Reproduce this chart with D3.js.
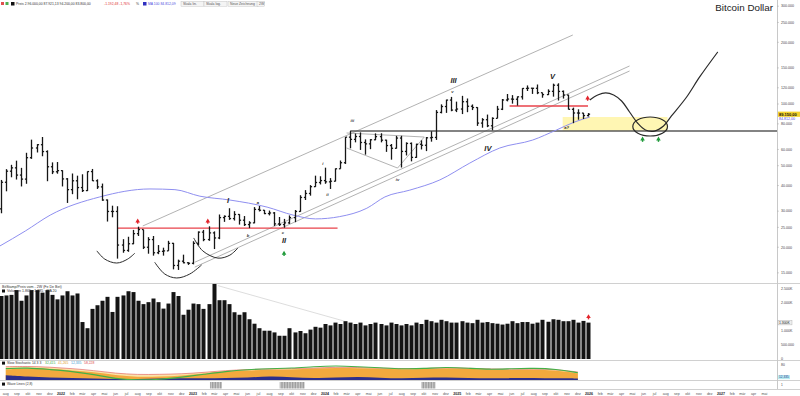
<!DOCTYPE html>
<html>
<head>
<meta charset="utf-8">
<script src="https://cdn.jsdelivr.net/npm/d3@7"></script>
<style>
body { margin: 0; background: #fff; }
svg { display: block; font-family: "Liberation Sans", Arial, sans-serif; }
</style>
</head>
<body>
<svg id="chart" width="800" height="396"></svg>
<script>
// two-week bars, prices in thousand USD
var firstBar = "2021-07-19";
var opens  = [30.8,41.5,47.0,48.8,45.0,43.0,54.7,61.0,63.3,58.6,49.4,46.7,47.3,43.1,38.2,42.2,39.1,37.8,46.8,42.2,39.4,34.0,29.9,29.9,20.5,19.3,20.8,23.3,24.4,20.0,21.8,18.8,19.1,19.2,20.9,16.3,17.1,16.8,16.7,20.9,23.7,21.8,23.5,22.2,27.9,28.3,27.6,28.9,27.1,25.8,26.3,30.6,30.3,29.2,29.4,26.0,25.8,26.3,27.9,29.9,35.0,36.6,39.5,41.4,42.3,41.7,42.0,48.3,51.7,68.9,67.2,69.4,64.9,63.9,66.9,69.3,66.6,62.7,60.8,68.2,58.7,64.2,54.9,63.6,62.9,68.4,68.7,91.0,97.2,104.5,93.4,94.5,102.6,97.5,96.1,80.7,83.8,78.3,85.1,94.3,104.6,105.7,105.5,108.4,119.1,119.4,119.3,113.5,111.1,115.3,123.5,115.2,110.6,94.2,90.4,90.3,87.8];
var highs  = [42.6,48.1,50.5,52.9,48.8,57.8,67.0,63.7,69.0,59.4,51.9,52.1,47.5,43.5,45.8,44.7,45.4,46.9,48.2,42.9,40.9,34.2,31.9,31.7,21.9,22.5,24.3,25.2,24.4,22.4,22.7,20.5,19.9,21.5,21.0,17.4,18.4,16.9,21.4,23.9,24.3,25.3,23.9,28.9,28.6,31.0,30.0,29.0,28.4,26.8,31.4,31.8,30.4,30.2,29.7,28.1,27.5,28.6,30.4,35.9,38.0,40.2,44.7,44.4,48.9,43.5,48.5,53.0,69.0,73.8,71.8,72.7,67.2,67.4,71.9,72.0,66.9,63.8,69.9,70.0,65.0,64.9,64.0,66.5,69.0,73.6,93.4,99.6,105.0,108.3,102.7,109.6,106.4,99.5,96.5,85.3,88.8,86.1,97.9,105.8,111.9,110.5,108.9,119.5,123.2,119.8,124.5,113.6,117.9,125.7,126.2,116.4,111.0,96.0,94.2,90.5,90.3];
var lows   = [29.3,37.5,43.9,42.8,39.6,40.8,54.0,58.0,55.6,42.0,45.5,45.7,39.6,32.9,36.3,34.3,37.2,37.6,42.1,38.5,33.7,26.7,28.0,17.6,18.8,19.0,20.7,22.7,19.6,18.6,18.2,18.5,18.2,19.2,15.6,15.5,16.7,16.4,16.5,20.4,21.4,21.5,19.6,21.9,26.6,27.2,27.0,25.8,25.4,24.8,26.2,29.9,29.0,28.6,25.4,25.4,24.9,26.0,26.5,29.8,34.0,35.7,39.4,40.5,40.8,38.5,41.9,48.3,51.0,60.8,65.0,59.7,56.6,60.2,66.6,65.0,58.4,53.5,60.6,49.0,56.1,52.5,54.6,60.0,58.9,65.5,66.8,90.0,90.5,92.2,91.3,89.3,91.2,93.4,78.2,76.6,77.1,74.4,85.1,93.4,103.0,100.4,98.2,105.1,115.7,112.0,111.7,107.3,110.6,108.6,104.0,106.3,94.0,80.6,83.8,84.5,86.9];
var closes = [41.5,47.0,48.8,45.0,43.0,54.7,61.0,63.3,58.6,49.4,46.7,47.3,43.1,38.2,42.2,39.1,37.8,46.8,42.2,39.4,34.0,29.9,29.9,20.5,19.3,20.8,23.3,24.4,20.0,21.8,18.8,19.1,19.2,20.9,16.3,17.1,16.8,16.7,20.9,23.7,21.8,23.5,22.2,27.9,28.3,27.6,28.9,27.1,25.8,26.3,30.6,30.3,29.2,29.4,26.0,25.8,26.3,27.9,29.9,35.0,36.6,39.5,41.4,42.3,41.7,42.0,48.3,51.7,68.9,67.2,69.4,64.9,63.9,66.9,69.3,66.6,62.7,60.8,68.2,58.7,64.2,54.9,63.6,62.9,68.4,68.7,91.0,97.2,104.5,93.4,94.5,102.6,97.5,96.1,80.7,83.8,78.3,85.1,94.3,104.6,105.7,105.5,108.4,119.1,119.4,119.3,113.5,111.1,115.3,123.5,115.2,110.6,94.2,90.4,90.3,87.8,89.15];
// volume in millions
var volumes = [2.25,2.27,2.29,2.46,2.08,2.27,2.46,2.46,2.37,2.46,2.29,2.13,2.27,2.42,2.27,2.34,1.32,1.10,1.79,1.92,2.08,2.22,1.68,2.22,2.27,2.42,2.39,2.08,1.96,2.03,2.16,2.03,1.80,1.98,2.39,2.25,1.58,1.76,1.98,1.96,1.79,1.96,2.68,2.10,2.10,1.96,1.67,1.58,1.67,1.42,1.26,1.10,1.01,1.01,0.95,0.83,0.83,1.10,0.95,1.0,0.92,1.05,1.15,1.12,1.25,1.2,1.3,1.25,1.35,1.3,1.25,1.3,1.2,1.25,1.3,1.25,1.2,1.3,1.25,1.2,1.25,1.2,1.3,1.25,1.4,1.35,1.3,1.4,1.35,1.3,1.3,1.35,1.3,1.28,1.4,1.3,1.32,1.28,1.26,1.23,1.26,1.35,1.28,1.32,1.32,1.26,1.30,1.40,1.33,1.42,1.40,1.35,1.35,1.40,1.30,1.36,1.30];

var maDates  = ["2021-07-16","2021-09-24","2021-12-02","2022-04-18","2022-09-04","2022-11-12","2023-01-20","2023-04-13","2023-07-25","2023-10-05","2023-12-06","2024-02-10","2024-04-26","2024-06-15","2024-08-23","2024-11-14","2025-02-05","2025-04-29","2025-07-29","2025-10-03","2025-11-22","2026-01-03"];
var maValues = [20.3,24.0,28.7,35.2,38.5,38.2,35.5,34.0,31.4,28.7,27.5,28.2,31.0,35.2,38.0,42.6,51.5,61.0,66.7,74.7,81.7,86.4];

// oscillator, one value every two months from Aug 2021
var oscStart = "2021-08-01";
var oscK   = [55,62,60,50,42,25,15,18,22,35,45,50,55,55,60,65,62,60,55,58,62,60,55,52,55,50,35];
var oscD   = [60,65,55,45,30,5,0,2,15,30,45,55,60,62,70,75,70,65,58,60,68,62,55,60,62,58,38];
var oscLow = [25,18,12,10,8,5,5,8,10,8,10,12,20,15,10,12,18,12,8,12,15,10,8,10,12,8,8];
var oscSig = [70,72,68,60,50,35,28,30,32,40,50,55,58,60,62,68,66,62,60,60,65,62,58,56,58,55,42];

var signalBlocks = [["2023-02-17","2023-03-22"],["2023-08-29","2023-11-06"],["2024-09-24","2024-11-02"]];

var priceTicks  = [300000,250000,200000,150000,120000,100000,80000,60000,50000,40000,30000,25000,20000,15000];
var volumeTicks = [2.5,2.0,1.0,0.5,0];
var volumeTickLabels = ["2.500K","2.000K","1.000K","500.000","0"];
var monthNames = ["Jan","Feb","Mär","Apr","Mai","Jun","Jul","Aug","Sep","Okt","Nov","Dez"];

// drawings (date, price in k)
var channelLines = [
  [["2022-08-15",25.4],["2025-11-17",217.1]],
  [["2023-01-06",16.9],["2026-04-23",153.3]],
  [["2023-01-06",16.0],["2026-04-23",144.9]]
];
var triangle = [["2024-03-01",72.2],["2024-10-02",69.0],["2024-07-20",48.7],["2024-03-01",61.0]];
var supportLine = {price: 73.8, from: "2024-03-11", to: "2027-06-05"};
var redLines = [{price: 24.8, from: "2022-06-06", to: "2024-02-05"}, {price: 97.8, from: "2025-05-26", to: "2025-12-29"}];
var targetZone = {from: "2025-10-20", to: "2026-08-06", lo: 73.8, hi: 86.4};
var ellipseBox = {from: "2026-05-02", to: "2026-08-06", lo: 69.8, hi: 86.4};
var forecast = [["2026-01-03",104.6],["2026-01-25",110.6],["2026-02-16",113.2],["2026-03-10",110.6],["2026-04-01",103.4],["2026-04-23",91.4],["2026-05-15",80.8],["2026-06-06",74.7],["2026-07-01",73.8],["2026-07-26",78.1],["2026-08-17",87.4],["2026-09-28",108.2],["2026-11-03",135.5],["2026-12-23",179.4]];
var arcs = [
  [["2022-04-10",19.2],["2022-05-02",17.5],["2022-06-04",16.75],["2022-07-04",17.5],["2022-07-24",18.7]],
  [["2022-09-17",16.9],["2022-10-15",14.8],["2022-11-17",14.16],["2022-12-23",14.8],["2023-01-25",16.4]],
  [["2023-01-03",22.2],["2023-01-28",19.2],["2023-03-11",17.7],["2023-04-13",18.3],["2023-05-05",19.8]]
];
var waveLabels = [["I","2023-04-08",34.0],["II","2023-09-10",21.5],["III","2024-12-22",131.0],["IV","2025-03-27",61.0],["V","2025-09-22",137.0]];
var subLabels = [["a","2023-06-30",33.2],["b","2023-06-02",22.7],["c","2023-09-07",23.7],["i","2023-12-26",51.5],["ii","2024-01-08",36.0],["iii","2024-03-17",83.5],["iv","2024-07-20",42.6],["v","2024-12-19",114.4],["a?","2025-10-31",76.4]];
var redArrows = [["2022-08-01",26.6],["2023-02-11",26.6],["2025-12-28",105.8]];
var greenArrows = [["2023-09-10",18.5],["2026-05-29",66.7],["2026-07-12",66.7]];

var parse = d3.timeParse("%Y-%m-%d");
var de = d3.formatLocale({decimal: ",", thousands: ".", grouping: [3], currency: ["", " €"]});
var fmtInt = de.format(",.0f"), fmt2 = de.format(",.2f");

var axisX = 777;
var svg = d3.select("#chart");
var x = d3.scaleTime().domain([parse("2021-07-16"), parse("2027-06-05")]).range([0, axisX]);
var y = d3.scaleLog().domain([15000, 300000]).range([272.85, 6.22]);
var yv = d3.scaleLinear().domain([0, 2.5]).range([359, 289]);
var yo = d3.scaleLinear().domain([0, 100]).range([380, 361]);

var bars = opens.map(function(o, i) {
  return {date: d3.timeDay.offset(parse(firstBar), 14 * i), o: o * 1000, h: highs[i] * 1000, l: lows[i] * 1000, c: closes[i] * 1000, v: volumes[i]};
});
function px(p) { return [x(parse(p[0])), y(p[1] * 1000)]; }

var defs = svg.append("defs");
defs.append("clipPath").attr("id", "mainClip").append("rect").attr("x", 0).attr("y", 0).attr("width", axisX).attr("height", 283);
defs.append("clipPath").attr("id", "oscClip").append("rect").attr("x", 0).attr("y", 360).attr("width", axisX).attr("height", 20);
var hatch = defs.append("pattern").attr("id", "hatch").attr("width", 1.6).attr("height", 1.6).attr("patternUnits", "userSpaceOnUse");
hatch.append("rect").attr("width", 1.6).attr("height", 1.6).attr("fill", "#999");
hatch.append("rect").attr("width", 0.6).attr("height", 1.6).attr("fill", "#ddd");

// pane frames
[283.5, 360.5, 380.5, 389.5].forEach(function(v) {
  svg.append("line").attr("x1", 0).attr("x2", 800).attr("y1", v).attr("y2", v).attr("stroke", "#d0d0d0").attr("stroke-width", 1);
});
svg.append("line").attr("x1", axisX + 0.5).attr("x2", axisX + 0.5).attr("y1", 0).attr("y2", 389).attr("stroke", "#c8c8c8");

var main = svg.append("g").attr("clip-path", "url(#mainClip)");

// target zone
main.append("rect")
  .attr("x", x(parse(targetZone.from))).attr("width", x(parse(targetZone.to)) - x(parse(targetZone.from)))
  .attr("y", y(targetZone.hi * 1000)).attr("height", y(targetZone.lo * 1000) - y(targetZone.hi * 1000))
  .attr("fill", "#fff6b3");

var line = d3.line().x(function(p) { return px(p)[0]; }).y(function(p) { return px(p)[1]; });

channelLines.forEach(function(l) {
  main.append("path").attr("d", line(l)).attr("fill", "none").attr("stroke", "#a9a9a9").attr("stroke-width", 0.9);
});
main.append("path").attr("d", line(triangle)).attr("fill", "none").attr("stroke", "#a0a0a0").attr("stroke-width", 0.8);

main.append("line")
  .attr("x1", x(parse(supportLine.from))).attr("x2", x(parse(supportLine.to)))
  .attr("y1", y(supportLine.price * 1000)).attr("y2", y(supportLine.price * 1000))
  .attr("stroke", "#5a5a5a").attr("stroke-width", 1.6);

redLines.forEach(function(r) {
  main.append("line")
    .attr("x1", x(parse(r.from))).attr("x2", x(parse(r.to)))
    .attr("y1", y(r.price * 1000)).attr("y2", y(r.price * 1000))
    .attr("stroke", "#e8424a").attr("stroke-width", 1.3);
});

// moving average
var maLine = d3.line().curve(d3.curveMonotoneX)
  .x(function(d, i) { return x(parse(maDates[i])); })
  .y(function(d) { return y(d * 1000); });
main.append("path").attr("d", maLine(maValues)).attr("fill", "none").attr("stroke", "#8f8ff0").attr("stroke-width", 1);

// OHLC bars
var bg = main.append("g").attr("stroke", "#161616").attr("stroke-width", 1.3);
bars.forEach(function(b) {
  var cx = Math.round(x(b.date)) + 0.5;
  bg.append("line").attr("x1", cx).attr("x2", cx).attr("y1", y(b.h)).attr("y2", y(b.l));
  bg.append("line").attr("x1", cx - 1.6).attr("x2", cx).attr("y1", y(b.o)).attr("y2", y(b.o));
  bg.append("line").attr("x1", cx).attr("x2", cx + 1.6).attr("y1", y(b.c)).attr("y2", y(b.c));
});

// cup arcs
var smooth = d3.line().curve(d3.curveCatmullRom)
  .x(function(p) { return px(p)[0]; }).y(function(p) { return px(p)[1]; });
arcs.forEach(function(a) {
  main.append("path").attr("d", smooth(a)).attr("fill", "none").attr("stroke", "#2a2a2a").attr("stroke-width", 1);
});

// forecast path and ellipse
main.append("path").attr("d", smooth(forecast)).attr("fill", "none").attr("stroke", "#2a2a2a").attr("stroke-width", 1.2);
var ex1 = x(parse(ellipseBox.from)), ex2 = x(parse(ellipseBox.to));
var ey1 = y(ellipseBox.hi * 1000), ey2 = y(ellipseBox.lo * 1000);
main.append("ellipse").attr("cx", (ex1 + ex2) / 2).attr("cy", (ey1 + ey2) / 2)
  .attr("rx", (ex2 - ex1) / 2).attr("ry", (ey2 - ey1) / 2)
  .attr("fill", "none").attr("stroke", "#2a2a2a").attr("stroke-width", 1.2);

// labels
waveLabels.forEach(function(l) {
  var p = px([l[1], l[2]]);
  main.append("text").attr("x", p[0]).attr("y", p[1]).attr("dy", "0.35em").attr("text-anchor", "middle")
    .attr("font-style", "italic").attr("font-weight", "bold")
    .attr("font-size", 7.5).attr("fill", "#1e1e1e").text(l[0]);
});
subLabels.forEach(function(l) {
  var p = px([l[1], l[2]]);
  main.append("text").attr("x", p[0]).attr("y", p[1]).attr("dy", "0.35em").attr("text-anchor", "middle")
    .attr("font-style", "italic").attr("font-weight", "bold")
    .attr("font-size", 4.2).attr("fill", "#333").text(l[0]);
});

function arrow(g, cx, cy, color) {
  g.append("path").attr("d", d3.symbol().type(d3.symbolTriangle).size(9)()).attr("transform", "translate(" + cx + "," + (cy - 0.8) + ")").attr("fill", color);
  g.append("rect").attr("x", cx - 0.7).attr("y", cy).attr("width", 1.4).attr("height", 1.8).attr("fill", color);
}
redArrows.forEach(function(a) { var p = px(a); arrow(main, p[0], p[1], "#e3242b"); });
greenArrows.forEach(function(a) { var p = px(a); arrow(main, p[0], p[1], "#1f9a3a"); });

// title
svg.append("text").attr("x", 773).attr("y", 10.5).attr("text-anchor", "end").attr("font-size", 9.8).attr("fill", "#222").text("Bitcoin Dollar");

// price axis
var tickG = svg.append("g").attr("font-size", 3.6).attr("fill", "#444");
priceTicks.forEach(function(t) {
  tickG.append("line").attr("x1", axisX).attr("x2", axisX + 2).attr("y1", y(t)).attr("y2", y(t)).attr("stroke", "#aaa").attr("stroke-width", 0.5);
  tickG.append("text").attr("x", 781).attr("y", y(t)).attr("dy", "0.35em").text(fmtInt(t));
});
var last = bars[bars.length - 1];
svg.append("rect").attr("x", 778).attr("y", y(last.c) - 2.6).attr("width", 22).attr("height", 5.2).attr("fill", "#f4d22c");
svg.append("text").attr("x", 779).attr("y", y(last.c)).attr("dy", "0.35em").attr("font-size", 4).attr("font-weight", "bold").attr("fill", "#111").text(fmt2(last.c));
var maLast = maValues[maValues.length - 1] * 1000;
svg.append("text").attr("x", 779).attr("y", y(maLast) + 2).attr("dy", "0.35em").attr("font-size", 3.6).attr("fill", "#4b4be0").text(fmt2(maLast - 1588));

// top legend
var leg = svg.append("g").attr("font-size", 3.4);
leg.append("rect").attr("x", 1).attr("y", 2).attr("width", 3).attr("height", 3).attr("fill", "#e05050");
leg.append("rect").attr("x", 5.5).attr("y", 2).attr("width", 3).attr("height", 3).attr("fill", "#4caf50");
leg.append("rect").attr("x", 11).attr("y", 2).attr("width", 3.5).attr("height", 3.5).attr("fill", "#111");
leg.append("text").attr("x", 16).attr("y", 5).attr("fill", "#333").text("Preis 2.96.000,00 87.921,13 94.200,00 83.800,00");
leg.append("text").attr("x", 104).attr("y", 5).attr("fill", "#e03030").text("-1.192,48  -1,76%");
leg.append("text").attr("x", 136).attr("y", 5).attr("fill", "#333").text("%");
leg.append("rect").attr("x", 143).attr("y", 2).attr("width", 3.5).attr("height", 3.5).attr("fill", "#3030c0");
leg.append("text").attr("x", 148).attr("y", 5).attr("fill", "#4b4be0").text("MA 100  84.812,09");
[[181, "Skala lin."], [204, "Skala log."], [228, "Neue Zeichnung"], [257, "2W"]].forEach(function(b) {
  var w = b[1].length * 1.9 + 4;
  leg.append("rect").attr("x", b[0]).attr("y", 1.2).attr("width", w).attr("height", 5).attr("fill", "#f4f4f4").attr("stroke", "#bbb").attr("stroke-width", 0.4);
  leg.append("text").attr("x", b[0] + 2).attr("y", 5).attr("fill", "#555").text(b[1]);
});

// volume pane
var vg = svg.append("g");
vg.append("text").attr("x", 2).attr("y", 287.5).attr("font-size", 3.6).attr("fill", "#333").text("BitStamp/Preis vom - 2W (Fe De Bet)");
vg.append("rect").attr("x", 2).attr("y", 289.5).attr("width", 3).attr("height", 3).attr("fill", "#111");
vg.append("text").attr("x", 7).attr("y", 292.3).attr("font-size", 3.6).attr("fill", "#333").text("Volumen  1.865  •  1.885  ·  MA 20");
vg.append("line")
  .attr("x1", x(parse("2023-03-11"))).attr("x2", x(parse("2024-03-01")))
  .attr("y1", yv(2.62)).attr("y2", yv(1.33))
  .attr("stroke", "#cfcfcf").attr("stroke-width", 0.7);
vg.selectAll("rect.vol").data(bars).enter().append("rect").attr("class", "vol")
  .attr("x", function(d) { return Math.round(x(d.date)) - 1.5; })
  .attr("width", 4)
  .attr("y", function(d) { return yv(d.v); })
  .attr("height", function(d) { return yv(0) - yv(d.v); })
  .attr("fill", "#141414");
arrow(vg, Math.round(x(last.date)) + 0.5, yv(last.v) - 5, "#e3242b");
volumeTicks.forEach(function(t, i) {
  vg.append("text").attr("x", 781).attr("y", yv(t)).attr("dy", "0.35em").attr("font-size", 3.6).attr("fill", "#444").text(volumeTickLabels[i]);
});
vg.append("rect").attr("x", 778).attr("y", yv(last.v) - 2.3).attr("width", 14).attr("height", 4.6).attr("fill", "#eee").attr("stroke", "#aaa").attr("stroke-width", 0.4);
vg.append("text").attr("x", 779).attr("y", yv(last.v)).attr("dy", "0.35em").attr("font-size", 3.4).attr("fill", "#222").text(fmtInt(last.v * 1000) + "K");

// oscillator pane
var oscDates = oscK.map(function(d, i) { return d3.timeMonth.offset(parse(oscStart), 2 * i); });
var og = svg.append("g").attr("clip-path", "url(#oscClip)");
function area(vals) {
  return d3.area().curve(d3.curveBasis).x(function(d, i) { return x(oscDates[i]); }).y0(yo(0)).y1(function(d) { return yo(d); })(vals);
}
function path(vals) {
  return d3.line().curve(d3.curveBasis).x(function(d, i) { return x(oscDates[i]); }).y(function(d) { return yo(d); })(vals);
}
og.append("path").attr("d", area(oscSig)).attr("fill", "#fbe4a8");
og.append("path").attr("d", area(oscK)).attr("fill", "#f2a93e");
og.append("path").attr("d", area(oscLow)).attr("fill", "#2c2f8c");
og.append("path").attr("d", path(oscSig)).attr("fill", "none").attr("stroke", "#e46a6a").attr("stroke-width", 0.7);
og.append("path").attr("d", path(oscD)).attr("fill", "none").attr("stroke", "#43b047").attr("stroke-width", 1.1);
var oleg = svg.append("g").attr("font-size", 3.4);
oleg.append("rect").attr("x", 2).attr("y", 361.6).attr("width", 3).attr("height", 3).attr("fill", "#111");
oleg.append("text").attr("x", 7).attr("y", 364.3).attr("fill", "#333").text("Slow Stochastic 14 3 3");
oleg.append("text").attr("x", 45).attr("y", 364.3).attr("fill", "#43b047").text("32,415");
oleg.append("text").attr("x", 58).attr("y", 364.3).attr("fill", "#e39a2a").text("41,265");
oleg.append("text").attr("x", 71).attr("y", 364.3).attr("fill", "#3a9ad0").text("12,335");
oleg.append("text").attr("x", 84).attr("y", 364.3).attr("fill", "#e04848").text("58,228");
svg.append("text").attr("x", 781).attr("y", yo(80)).attr("dy", "0.35em").attr("font-size", 3.4).attr("fill", "#444").text("80");
svg.append("rect").attr("x", 778).attr("y", yo(15) - 2).attr("width", 12).attr("height", 4).attr("fill", "#b8ecf0");
svg.append("text").attr("x", 779).attr("y", yo(15)).attr("dy", "0.35em").attr("font-size", 3.2).attr("fill", "#2c2f8c").text("12,335");

// signal pane
var sg = svg.append("g");
sg.append("rect").attr("x", 2).attr("y", 382.6).attr("width", 3).attr("height", 3).attr("fill", "#111");
sg.append("text").attr("x", 7).attr("y", 385.3).attr("font-size", 3.4).attr("fill", "#333").text("Wave Lines (2,8)");
signalBlocks.forEach(function(b) {
  var x1 = x(parse(b[0])), x2 = x(parse(b[1]));
  sg.append("rect").attr("x", x1).attr("y", 382).attr("width", x2 - x1).attr("height", 6.5).attr("fill", "url(#hatch)");
});
svg.append("text").attr("x", 781).attr("y", 385).attr("dy", "0.35em").attr("font-size", 3.2).attr("fill", "#444").text("1");

// time axis
var months = d3.timeMonth.range(parse("2021-08-01"), parse("2027-06-01"));
var tg = svg.append("g").attr("font-size", 3.6).attr("text-anchor", "middle");
months.forEach(function(m) {
  var isYear = m.getMonth() === 0;
  tg.append("text").attr("x", x(m)).attr("y", 394.5)
    .attr("font-weight", isYear ? "bold" : "normal")
    .attr("fill", isYear ? "#222" : "#555")
    .text(isYear ? m.getFullYear() : monthNames[m.getMonth()].toLowerCase());
});
</script>
</body>
</html>
